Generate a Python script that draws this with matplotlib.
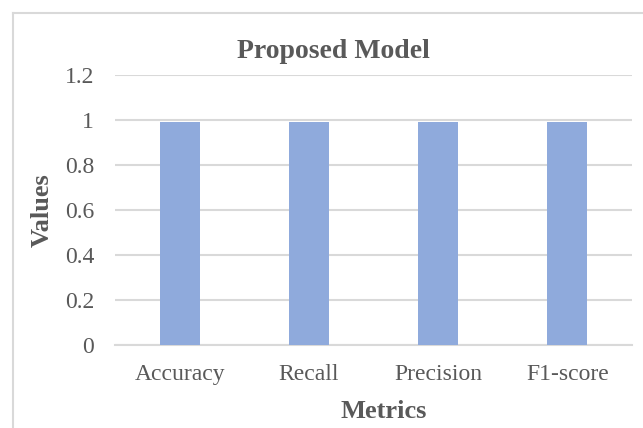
import matplotlib

matplotlib.use("Agg")
import matplotlib.pyplot as plt  # noqa: E402
from matplotlib.lines import Line2D  # noqa: E402

metrics = ["Accuracy", "Recall", "Precision", "F1-score"]
values = [0.99, 0.99, 0.99, 0.99]
yticks = [0, 0.2, 0.4, 0.6, 0.8, 1, 1.2]
ytick_labels = ["0", "0.2", "0.4", "0.6", "0.8", "1", "1.2"]

TEXT = "#595959"
GRID = "#d9d9d9"
BAR = "#8faadc"

plt.rcParams["font.family"] = ["Liberation Serif", "DejaVu Serif"]

W, H = 643, 428
fig = plt.figure(figsize=(W / 100, H / 100), dpi=100)
ax = fig.add_axes([115 / W, 1 - 345 / H, (632 - 115) / W, (345 - 75) / H])

x = list(range(len(metrics)))
ax.bar(x, values, width=0.31, color=BAR, zorder=3)

ax.set_xlim(-0.5, len(metrics) - 0.5)
ax.set_ylim(0, 1.2)
ax.set_yticks(yticks)
ax.set_yticklabels(ytick_labels)
ax.set_xticks(x)
ax.set_xticklabels(metrics)
ax.yaxis.grid(True, color=GRID, linewidth=1.5, zorder=0)
ax.set_axisbelow(True)
for s in ["top", "right", "left"]:
    ax.spines[s].set_visible(False)
ax.spines["bottom"].set_color(GRID)
ax.spines["bottom"].set_linewidth(1.5)
ax.tick_params(axis="y", length=0, pad=15, labelsize=17, labelcolor=TEXT)
ax.tick_params(axis="x", length=0, pad=14, labelsize=17, labelcolor=TEXT)

# titles placed like the Excel chart
fig.text(333 / W, 1 - 58 / H, "Proposed Model", ha="center", va="baseline",
         fontsize=20, fontweight="bold", color=TEXT)
fig.text(384 / W, 1 - 418 / H, "Metrics", ha="center", va="baseline",
         fontsize=19, fontweight="bold", color=TEXT)
fig.text(42.5 / W, 1 - 210.5 / H, "Values", ha="center", va="center",
         rotation=90, fontsize=19, fontweight="bold", color=TEXT)

# chart-area border (cropped at right/bottom)
bx, by = 13 / W, 1 - 12.5 / H
fig.add_artist(Line2D([bx, bx], [0, by], color=GRID, linewidth=1.5))
fig.add_artist(Line2D([bx, 1], [by, by], color=GRID, linewidth=1.5))

fig.savefig("out.png", dpi=100)
